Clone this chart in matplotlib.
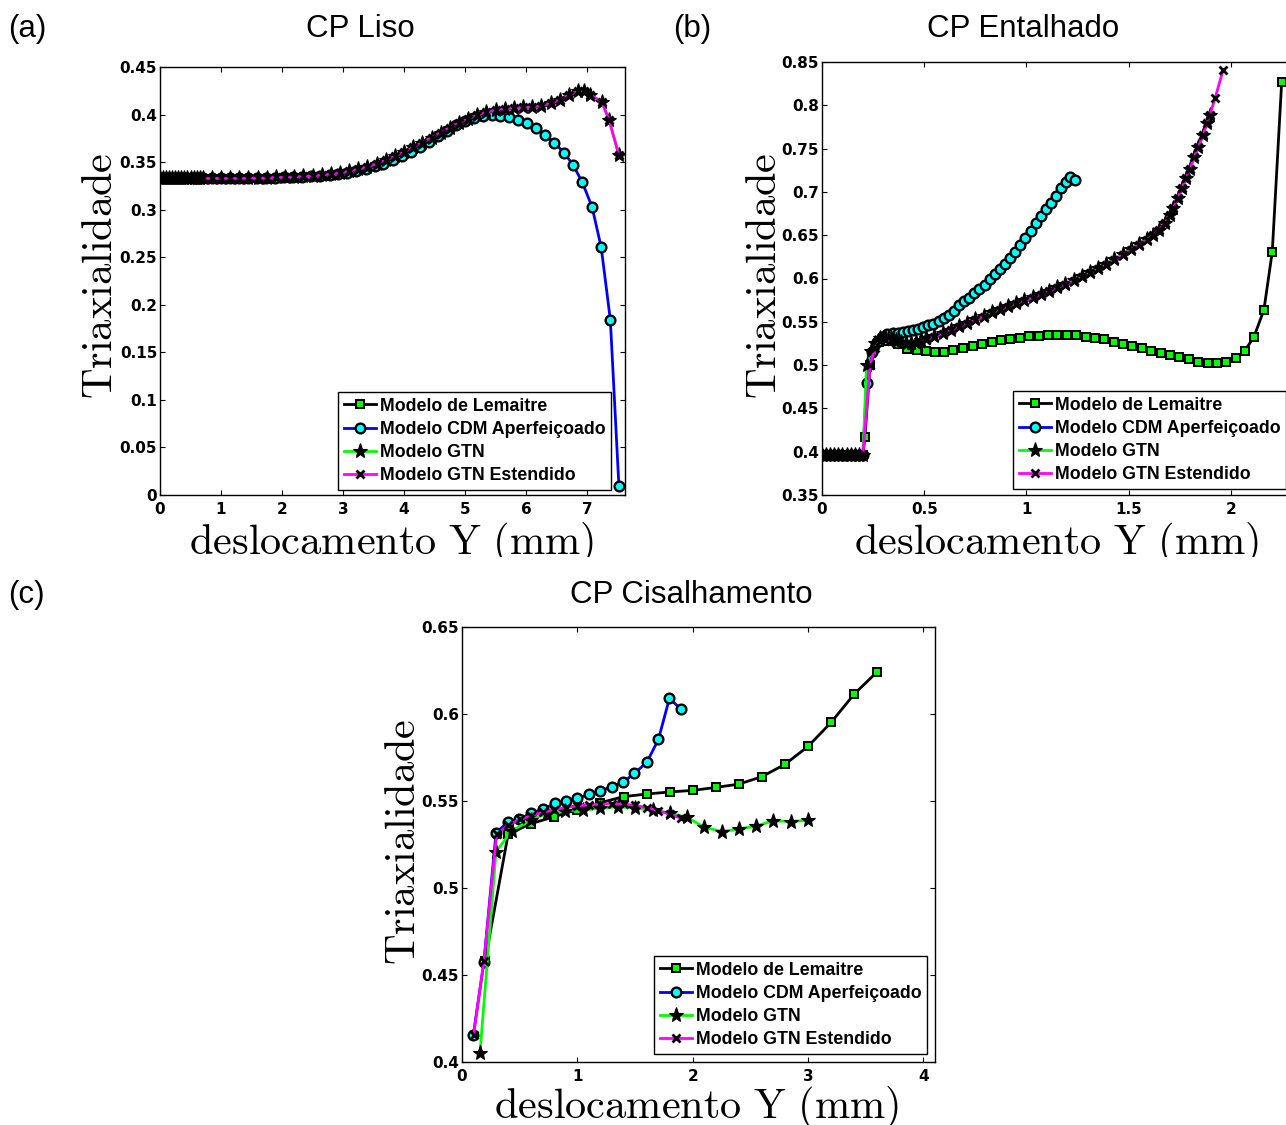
import matplotlib
matplotlib.use('Agg')
import matplotlib.pyplot as plt
from matplotlib.transforms import Bbox, TransformedBbox

# Canvas size in pixels
W, H = 1286, 1125

plt.rcParams['mathtext.fontset'] = 'cm'

# ---------------- Data: (a) CP Liso ----------------
a_cdm_x = [0, 0.05, 0.1, 0.15, 0.2, 0.25, 0.3, 0.35, 0.4, 0.45, 0.5, 0.55, 0.6, 0.65, 0.7,
           0.85, 1.0, 1.15, 1.3, 1.44, 1.59, 1.74, 1.89, 2.04, 2.18,
           2.33, 2.48, 2.63, 2.78, 2.92, 3.07, 3.22, 3.37, 3.52, 3.66,
           3.81, 3.96, 4.11, 4.26, 4.4, 4.55, 4.7, 4.85, 5.0, 5.14,
           5.29, 5.44, 5.57, 5.72, 5.86, 6.02, 6.16, 6.31, 6.46, 6.62,
           6.77, 6.92, 7.08, 7.23, 7.38, 7.52]
a_cdm_y = [0.333, 0.333, 0.333, 0.333, 0.333, 0.333, 0.333, 0.333, 0.333, 0.333, 0.333, 0.333, 0.333, 0.333, 0.333,
           0.333, 0.333, 0.333, 0.333, 0.3332, 0.3333, 0.3335, 0.3337, 0.334, 0.3343,
           0.3347, 0.3352, 0.3358, 0.3366, 0.3376, 0.339, 0.3407, 0.3428, 0.3455, 0.3485,
           0.352, 0.356, 0.3605, 0.3655, 0.371, 0.377, 0.383, 0.3885, 0.393, 0.3965,
           0.3987, 0.3996, 0.3985, 0.397, 0.394, 0.391, 0.3856, 0.3786, 0.3705, 0.36,
           0.347, 0.3288, 0.303, 0.2604, 0.184, 0.0095]

a_gtn_x = [0, 0.05, 0.1, 0.15, 0.2, 0.25, 0.3, 0.35, 0.4, 0.45, 0.5, 0.55, 0.6, 0.65, 0.7,
           0.85, 1.0, 1.15, 1.3, 1.45, 1.6, 1.75, 1.9, 2.05, 2.2,
           2.35, 2.5, 2.65, 2.8, 2.95, 3.1, 3.25, 3.4, 3.55, 3.7,
           3.85, 4.0, 4.15, 4.3, 4.45, 4.6, 4.75, 4.9, 5.05, 5.2,
           5.35, 5.5, 5.65, 5.8, 5.95, 6.1, 6.25, 6.4, 6.55, 6.7,
           6.85, 6.95, 7.05, 7.24, 7.36, 7.52]
a_gtn_y = [0.333, 0.333, 0.333, 0.333, 0.333, 0.333, 0.333, 0.333, 0.333, 0.333, 0.333, 0.333, 0.333, 0.333, 0.333,
           0.333, 0.333, 0.333, 0.333, 0.3332, 0.3334, 0.3336, 0.3339, 0.3342, 0.3346,
           0.3351, 0.3357, 0.3365, 0.3375, 0.3388, 0.3405, 0.3426, 0.3452, 0.3483, 0.352,
           0.3562, 0.3607, 0.3655, 0.3705, 0.3757, 0.381, 0.3862, 0.391, 0.3955, 0.3995,
           0.4025, 0.4048, 0.4062, 0.407, 0.4075, 0.4082, 0.4095, 0.4118, 0.4155, 0.4205,
           0.4245, 0.425, 0.4206, 0.4136, 0.394, 0.3575]
# GTN Estendido lies on top of GTN in this specimen
a_gtne_x = a_gtn_x
a_gtne_y = a_gtn_y

# ---------------- Data: (b) CP Entalhado ----------------
b_flat_x = [0, 0.02, 0.04, 0.06, 0.08, 0.1, 0.12, 0.14, 0.16, 0.18, 0.2]
b_flat_y = [0.396, 0.396, 0.396, 0.396, 0.396, 0.396, 0.396, 0.396, 0.396, 0.396, 0.396]

b_lem_x = b_flat_x + [0.21, 0.235, 0.28, 0.325, 0.37, 0.417, 0.463, 0.509, 0.553, 0.598,
                      0.642, 0.691, 0.737, 0.784, 0.83, 0.875, 0.921, 0.968, 1.014, 1.06,
                      1.105, 1.151, 1.197, 1.242, 1.289, 1.335, 1.381, 1.428, 1.472, 1.517,
                      1.563, 1.609, 1.656, 1.702, 1.747, 1.795, 1.84, 1.886, 1.93, 1.977,
                      2.023, 2.067, 2.112, 2.161, 2.202, 2.248]
b_lem_y = b_flat_y + [0.417, 0.5, 0.527, 0.528, 0.524, 0.519, 0.5174, 0.5163, 0.5151, 0.5155,
                      0.5174, 0.5194, 0.5224, 0.5244, 0.5263, 0.529, 0.53, 0.5316, 0.5332, 0.534,
                      0.5348, 0.5351, 0.5351, 0.5344, 0.5328, 0.5316, 0.5298, 0.527, 0.524, 0.522,
                      0.5194, 0.5166, 0.5143, 0.5117, 0.509, 0.5067, 0.504, 0.5024, 0.5024, 0.504,
                      0.5078, 0.5163, 0.5325, 0.5636, 0.631, 0.827]

b_cdm_x = b_flat_x + [0.218, 0.243, 0.27, 0.295, 0.32, 0.345, 0.37, 0.395, 0.42, 0.445,
                      0.47, 0.495, 0.52, 0.545, 0.57, 0.595, 0.62, 0.645, 0.67, 0.695,
                      0.72, 0.745, 0.77, 0.795, 0.82, 0.845, 0.87, 0.895, 0.92, 0.945,
                      0.97, 0.995, 1.02, 1.045, 1.07, 1.095, 1.12, 1.145, 1.17, 1.195,
                      1.215, 1.237]
b_cdm_y = b_flat_y + [0.479, 0.515, 0.527, 0.533, 0.536, 0.537, 0.537, 0.538, 0.539, 0.54,
                      0.542, 0.544, 0.546, 0.548, 0.551, 0.554, 0.558, 0.563, 0.569, 0.574,
                      0.578, 0.583, 0.588, 0.593, 0.599, 0.605, 0.611, 0.617, 0.624, 0.631,
                      0.639, 0.647, 0.655, 0.664, 0.672, 0.68, 0.687, 0.695, 0.704, 0.712,
                      0.717, 0.714]

b_gtn_x = b_flat_x + [0.218, 0.24, 0.26, 0.285, 0.31, 0.335, 0.36, 0.385, 0.41, 0.435,
                      0.46, 0.485, 0.51, 0.55, 0.59, 0.63, 0.67, 0.71, 0.75, 0.79,
                      0.83, 0.87, 0.91, 0.95, 0.99, 1.03, 1.07, 1.11, 1.15, 1.19,
                      1.23, 1.27, 1.31, 1.35, 1.39, 1.43, 1.47, 1.51, 1.55, 1.59,
                      1.62, 1.65, 1.677, 1.7, 1.718, 1.74, 1.759, 1.78, 1.8, 1.82,
                      1.84, 1.865, 1.881, 1.897]
b_gtn_y = b_flat_y + [0.5, 0.516, 0.526, 0.531, 0.532, 0.531, 0.529, 0.527, 0.526, 0.526,
                      0.527, 0.529, 0.531, 0.534, 0.537, 0.541, 0.545, 0.549, 0.553, 0.557,
                      0.561, 0.565, 0.568, 0.572, 0.575, 0.579, 0.582, 0.586, 0.59, 0.594,
                      0.598, 0.603, 0.607, 0.612, 0.617, 0.622, 0.628, 0.634, 0.64, 0.646,
                      0.65, 0.656, 0.664, 0.673, 0.681, 0.693, 0.704, 0.716, 0.727, 0.74,
                      0.752, 0.766, 0.779, 0.789]

b_gtne_x = b_flat_x + [0.235, 0.26, 0.285, 0.31, 0.335, 0.36, 0.385, 0.41, 0.435, 0.46,
                       0.485, 0.51, 0.55, 0.59, 0.63, 0.67, 0.71, 0.75, 0.79, 0.83,
                       0.87, 0.91, 0.95, 0.99, 1.03, 1.07, 1.11, 1.15, 1.19, 1.23,
                       1.27, 1.31, 1.35, 1.39, 1.43, 1.47, 1.51, 1.55, 1.59, 1.62,
                       1.65, 1.677, 1.7, 1.718, 1.74, 1.759, 1.78, 1.8, 1.82, 1.84,
                       1.865, 1.881, 1.897, 1.922, 1.962]
b_gtne_y = b_flat_y + [0.5, 0.52, 0.528, 0.529, 0.528, 0.526, 0.524, 0.523, 0.523, 0.524,
                       0.526, 0.529, 0.533, 0.536, 0.54, 0.544, 0.548, 0.552, 0.556, 0.56,
                       0.564, 0.567, 0.571, 0.574, 0.578, 0.581, 0.585, 0.589, 0.593, 0.597,
                       0.602, 0.606, 0.611, 0.616, 0.621, 0.627, 0.633, 0.639, 0.645, 0.65,
                       0.656, 0.664, 0.673, 0.681, 0.693, 0.704, 0.716, 0.727, 0.74, 0.752,
                       0.766, 0.779, 0.789, 0.808, 0.841]

# ---------------- Data: (c) CP Cisalhamento ----------------
c_lem_x = [0.2, 0.4, 0.6, 0.8, 1.0, 1.2, 1.4, 1.6, 1.8, 2.0, 2.2, 2.4, 2.6, 2.8, 3.0, 3.2, 3.4, 3.6]
c_lem_y = [0.458, 0.531, 0.537, 0.541, 0.545, 0.549, 0.5525, 0.554, 0.5552, 0.5561,
           0.5578, 0.5597, 0.564, 0.5711, 0.5814, 0.5952, 0.6115, 0.6243]

c_cdm_x = [0.098, 0.19, 0.295, 0.402, 0.497, 0.596, 0.7, 0.807, 0.902, 1.0,
           1.104, 1.197, 1.298, 1.399, 1.494, 1.602, 1.703, 1.798, 1.899]
c_cdm_y = [0.4155, 0.4576, 0.5318, 0.5381, 0.5395, 0.543, 0.5452, 0.5487, 0.55, 0.5515,
           0.5539, 0.5557, 0.5582, 0.5609, 0.5659, 0.5722, 0.5855, 0.609, 0.6027]

c_gtn_x = [0.156, 0.295, 0.431, 0.596, 0.74, 0.893, 1.047, 1.197, 1.356, 1.5,
           1.654, 1.804, 1.949, 2.102, 2.252, 2.397, 2.55, 2.7, 2.85, 2.998]
c_gtn_y = [0.4053, 0.5209, 0.5329, 0.539, 0.543, 0.5444, 0.5448, 0.5458, 0.5467, 0.5458,
           0.5448, 0.543, 0.5406, 0.5349, 0.5324, 0.5339, 0.5356, 0.5387, 0.5381, 0.539]

c_gtne_x = [0.1, 0.19, 0.3, 0.4, 0.5, 0.6, 0.7, 0.8, 0.9, 1.0,
            1.1, 1.2, 1.3, 1.4, 1.5, 1.6, 1.7, 1.8, 1.9]
c_gtne_y = [0.4155, 0.458, 0.531, 0.536, 0.5395, 0.5415, 0.5435, 0.545, 0.5462, 0.5472,
            0.5478, 0.5482, 0.5484, 0.5482, 0.5475, 0.5462, 0.5445, 0.5425, 0.54]

labels = ['Modelo de Lemaitre', 'Modelo CDM Aperfeiçoado', 'Modelo GTN', 'Modelo GTN Estendido']

# Series styles
st_lem = dict(color='black', marker='s', mfc='#00ff00', mec='black', ms=6, mew=1.4, lw=2, zorder=2)
st_cdm = dict(color='#0000ff', marker='o', mfc='#00ffff', mec='black', ms=7, mew=1.7, lw=2, zorder=3)
st_gtn = dict(color='#00ff00', marker='*', mfc='black', mec='black', ms=11, mew=0.8, lw=2, zorder=4)
st_gtne = dict(color='#ff00ff', marker='x', mec='black', ms=5.5, mew=2, lw=2, zorder=5)


def fx(p):
    return p / W


def fy(p):
    return 1 - p / H


def rect(x0, y0, x1, y1):
    return [x0 / W, 1 - y1 / H, (x1 - x0) / W, (y1 - y0) / H]


fig = plt.figure(figsize=(W / 100, H / 100), dpi=100)

ax_a = fig.add_axes(rect(160, 67, 625, 495))
ax_b = fig.add_axes(rect(822, 62, 1300.5, 495))
ax_c = fig.add_axes(rect(462, 627, 935, 1062))

# (a)
ax_a.plot([], [], label=labels[0], **st_lem)
ax_a.plot(a_cdm_x, a_cdm_y, label=labels[1], **st_cdm)
ax_a.plot(a_gtn_x, a_gtn_y, label=labels[2], **st_gtn)
ax_a.plot(a_gtne_x, a_gtne_y, label=labels[3], **st_gtne)

# (b)
ax_b.plot(b_lem_x, b_lem_y, label=labels[0], **st_lem)
ax_b.plot(b_cdm_x, b_cdm_y, label=labels[1], **st_cdm)
ax_b.plot(b_gtn_x, b_gtn_y, label=labels[2], **st_gtn)
ax_b.plot(b_gtne_x, b_gtne_y, label=labels[3], **st_gtne)

# (c)
ax_c.plot(c_lem_x, c_lem_y, label=labels[0], **st_lem)
ax_c.plot(c_cdm_x, c_cdm_y, label=labels[1], **st_cdm)
ax_c.plot(c_gtn_x, c_gtn_y, label=labels[2], **st_gtn)
ax_c.plot(c_gtne_x, c_gtne_y, label=labels[3], **st_gtne)


def style(ax, xlim, xt, xl, ylim, yt, yl):
    ax.set_xlim(xlim)
    ax.set_ylim(ylim)
    ax.set_xticks(xt)
    ax.set_xticklabels(xl)
    ax.set_yticks(yt)
    ax.set_yticklabels(yl)
    for t in ax.get_xticklabels() + ax.get_yticklabels():
        t.set_fontfamily('DejaVu Sans')
        t.set_fontweight('bold')
        t.set_fontsize(11)
    ax.tick_params(direction='in', top=True, right=True, length=3.5, width=0.8)
    ax.tick_params(axis='x', pad=5)
    ax.tick_params(axis='y', pad=2)
    for s in ax.spines.values():
        s.set_linewidth(1)


style(ax_a, (0, 7.62), [0, 1, 2, 3, 4, 5, 6, 7], ['0', '1', '2', '3', '4', '5', '6', '7'],
      (0, 0.45), [0, 0.05, 0.1, 0.15, 0.2, 0.25, 0.3, 0.35, 0.4, 0.45],
      ['0', '0.05', '0.1', '0.15', '0.2', '0.25', '0.3', '0.35', '0.4', '0.45'])
style(ax_b, (0, 2.34), [0, 0.5, 1, 1.5, 2], ['0', '0.5', '1', '1.5', '2'],
      (0.35, 0.85), [0.35, 0.4, 0.45, 0.5, 0.55, 0.6, 0.65, 0.7, 0.75, 0.8, 0.85],
      ['0.35', '0.4', '0.45', '0.5', '0.55', '0.6', '0.65', '0.7', '0.75', '0.8', '0.85'])
style(ax_c, (0, 4.1), [0, 1, 2, 3, 4], ['0', '1', '2', '3', '4'],
      (0.4, 0.65), [0.4, 0.45, 0.5, 0.55, 0.6, 0.65],
      ['0.4', '0.45', '0.5', '0.55', '0.6', '0.65'])

# Legends (lower-left corner placed in pixels)
for ax, (lx, ly) in [(ax_a, (338, 490)), (ax_b, (1013, 489)), (ax_c, (654, 1054))]:
    leg = ax.legend(loc='lower left', bbox_to_anchor=(fx(lx), fy(ly)), bbox_transform=fig.transFigure,
                    borderaxespad=0, fancybox=False, framealpha=1, edgecolor='black',
                    prop={'family': 'Liberation Sans', 'weight': 'bold', 'size': 12.8},
                    handlelength=1.8, handletextpad=0.25, borderpad=0.32, labelspacing=0.35)
    leg.get_frame().set_linewidth(1)
    leg.set_zorder(10)

# Axis labels (Computer Modern), top-row x labels are cut at the bottom like the original
ylab = r'$\mathrm{Triaxialidade}$'
xlab = r'$\mathrm{deslocamento\ Y\ (mm)}$'
for x, y in [(100, 276), (764, 276), (403, 842)]:
    fig.text(fx(x), fy(y), ylab, rotation=90, ha='center', va='center', fontsize=30.5)

clip_top = TransformedBbox(Bbox([[0, fy(557)], [1, 1]]), fig.transFigure)
for x in [392, 1057]:
    t = fig.text(fx(x), fy(554), xlab, ha='center', va='baseline', fontsize=30.5)
    t.set_clip_box(clip_top)
    t.set_clip_on(True)
fig.text(fx(697), fy(1118), xlab, ha='center', va='baseline', fontsize=30.5)

# Panel titles
tfont = dict(family='Liberation Sans', fontsize=22.5, ha='center', va='baseline')
fig.text(fx(27), fy(37), '(a)', **tfont)
fig.text(fx(360), fy(37), 'CP Liso', **tfont)
fig.text(fx(692), fy(37), '(b)', **tfont)
fig.text(fx(1023), fy(37), 'CP Entalhado', **tfont)
fig.text(fx(26), fy(603), '(c)', **tfont)
fig.text(fx(691), fy(603), 'CP Cisalhamento', **tfont)

fig.savefig('out.png', dpi=100)
